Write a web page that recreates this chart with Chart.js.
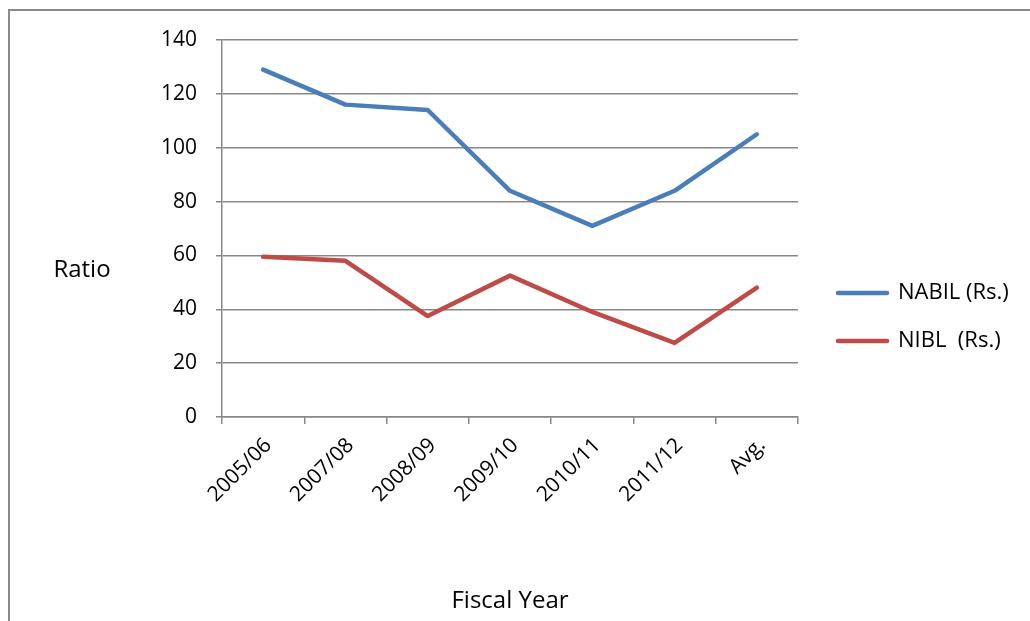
<!DOCTYPE html>
<html>
<head>
<meta charset="utf-8">
<script src="https://cdn.jsdelivr.net/npm/chart.js@4.4.1/dist/chart.umd.min.js"></script>
<style>
  html, body { margin: 0; padding: 0; background: #fff; }
  #wrap { width: 1030px; height: 621px; position: relative; }
</style>
</head>
<body>
<div id="wrap"><canvas id="chart"></canvas></div>
<script>
const years = ['2005/06', '2007/08', '2008/09', '2009/10', '2010/11', '2011/12', 'Avg.'];
const nabil = [129, 116, 114, 84, 71, 84, 105];
const nibl = [59.5, 58, 37.5, 52.5, 39, 27.5, 48];
const yTicks = [0, 20, 40, 60, 80, 100, 120, 140];
const seriesNames = ['NABIL (Rs.)', 'NIBL  (Rs.)'];

const FONT = "'Open Sans', sans-serif";
const gridColor = '#878787';

// legend sizes, so the plot ends near x=798
const legendFont = 22, legendBox = 49, legendPad = 26, gapW = 14;
const m = document.createElement('canvas').getContext('2d');
m.font = legendFont + 'px ' + FONT;
const textW = Math.max(...seriesNames.map(s => m.measureText(s).width));
const legendW = legendPad + legendBox + legendFont / 2 + textW + 10;
const padRight = Math.max(0, 1030 - 798 - gapW - legendW);

Chart.defaults.font.family = FONT;
Chart.defaults.color = '#000';

// outer frame + horizontal "Ratio" title
const frame = {
    id: 'frame',
    beforeDraw(c) {
        const ctx = c.ctx;
        ctx.save();
        ctx.strokeStyle = '#8a8a8a';
        ctx.lineWidth = 2;
        ctx.beginPath();
        ctx.moveTo(1030, 10);
        ctx.lineTo(9, 10);
        ctx.lineTo(9, 621);
        ctx.stroke();
        ctx.fillStyle = '#000';
        ctx.font = '24px ' + FONT;
        ctx.textAlign = 'center';
        ctx.textBaseline = 'middle';
        ctx.fillText('Ratio', 82, 270);
        ctx.restore();
    }
};

new Chart(document.getElementById('chart'), {
    type: 'line',
    data: {
        labels: years,
        datasets: [
            {
                label: seriesNames[0],
                data: nabil,
                borderColor: '#4A7EBB',
                backgroundColor: '#4A7EBB',
                borderWidth: 4.5,
                pointRadius: 0,
                borderCapStyle: 'round',
                borderJoinStyle: 'round'
            },
            {
                label: seriesNames[1],
                data: nibl,
                borderColor: '#BE4B48',
                backgroundColor: '#BE4B48',
                borderWidth: 4.5,
                pointRadius: 0,
                borderCapStyle: 'round',
                borderJoinStyle: 'round'
            }
        ]
    },
    options: {
        responsive: true,
        maintainAspectRatio: false,
        animation: false,
        layout: { padding: { top: 13, right: padRight, bottom: 0, left: 0 } },
        scales: {
            x: {
                offset: true,
                grid: { offset: true, drawOnChartArea: false, color: gridColor, lineWidth: 1.5, tickLength: 7 },
                border: { color: gridColor, width: 1.5 },
                ticks: { minRotation: 45, maxRotation: 45, padding: 9, labelOffset: 5, font: { size: 21 } },
                title: { display: true, text: 'Fiscal Year', font: { size: 24 }, padding: { top: 0, bottom: 5 } },
                afterFit: s => { s.height = 204; }
            },
            xTop: {
                axis: 'x',
                position: 'top',
                grid: { display: false },
                border: { display: false },
                ticks: { display: false },
                afterFit: s => { s.height = 27; }
            },
            y: {
                min: 0,
                max: 140,
                afterBuildTicks: s => { s.ticks = yTicks.map(v => ({ value: v })); },
                grid: { color: gridColor, lineWidth: 1.5, tickLength: 6 },
                border: { color: gridColor, width: 1.5 },
                ticks: { padding: 19, font: { size: 21 } },
                afterFit: s => { s.width = 222; }
            },
            gap: {
                axis: 'y',
                position: 'right',
                grid: { display: false },
                border: { display: false },
                ticks: { display: false },
                afterFit: s => { s.width = gapW; }
            }
        },
        plugins: {
            legend: {
                position: 'right',
                maxWidth: 400,
                labels: { boxWidth: legendBox, boxHeight: 0, padding: legendPad, font: { size: legendFont } }
            },
            tooltip: { enabled: false }
        }
    },
    plugins: [frame]
});
</script>
</body>
</html>
